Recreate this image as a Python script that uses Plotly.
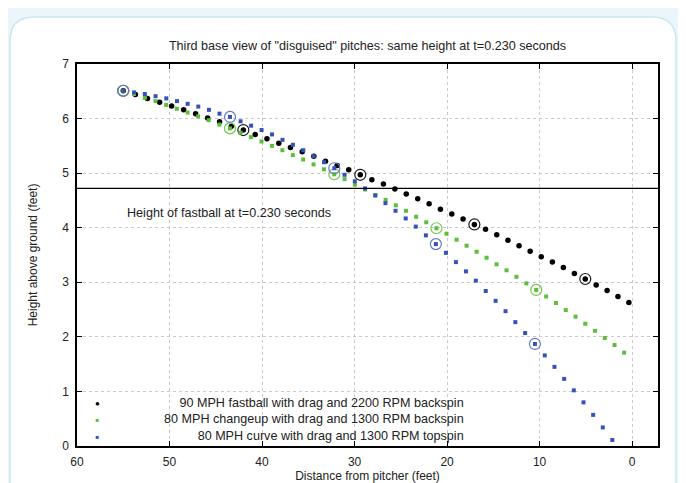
import plotly.graph_objects as go

# ---------------- data ----------------
fastball_x = [55.00, 53.69, 52.38, 51.07, 49.77, 48.47, 47.18, 45.88, 44.59, 43.31,
              42.02, 40.74, 39.47, 38.19, 36.93, 35.66, 34.40, 33.14, 31.88, 30.63,
              29.38, 28.13, 26.88, 25.64, 24.41, 23.17, 21.94, 20.72, 19.49, 18.27,
              17.05, 15.84, 14.63, 13.42, 12.22, 11.02, 9.82, 8.62, 7.43, 6.24,
              5.06, 3.88, 2.70, 1.53, 0.35]
fastball_y = [6.51, 6.44, 6.37, 6.30, 6.23, 6.16, 6.09, 6.01, 5.94, 5.86,
              5.79, 5.71, 5.63, 5.55, 5.47, 5.39, 5.31, 5.22, 5.14, 5.06,
              4.97, 4.88, 4.80, 4.71, 4.62, 4.53, 4.44, 4.34, 4.25, 4.16,
              4.06, 3.97, 3.87, 3.77, 3.67, 3.57, 3.47, 3.37, 3.27, 3.16,
              3.06, 2.95, 2.85, 2.74, 2.63]

changeup_x = [55.00, 53.84, 52.67, 51.52, 50.36, 49.21, 48.05, 46.91, 45.76, 44.61,
              43.47, 42.33, 41.20, 40.06, 38.93, 37.80, 36.67, 35.55, 34.43, 33.31,
              32.19, 31.08, 29.96, 28.85, 27.75, 26.64, 25.54, 24.44, 23.34, 22.25,
              21.15, 20.06, 18.97, 17.89, 16.81, 15.73, 14.65, 13.57, 12.50, 11.43,
              10.36, 9.29, 8.23, 7.17, 6.11, 5.06, 4.00, 2.95, 1.90, 0.86]
changeup_y = [6.51, 6.45, 6.38, 6.32, 6.25, 6.18, 6.11, 6.04, 5.97, 5.89,
              5.82, 5.74, 5.66, 5.58, 5.50, 5.42, 5.33, 5.25, 5.16, 5.07,
              4.98, 4.89, 4.79, 4.70, 4.60, 4.51, 4.41, 4.31, 4.20, 4.10,
              3.99, 3.89, 3.78, 3.67, 3.56, 3.45, 3.33, 3.22, 3.10, 2.98,
              2.86, 2.74, 2.62, 2.49, 2.37, 2.24, 2.11, 1.98, 1.85, 1.71]

curve_x = [55.00, 53.83, 52.67, 51.51, 50.35, 49.19, 48.04, 46.89, 45.74, 44.60,
           43.46, 42.32, 41.18, 40.05, 38.92, 37.79, 36.66, 35.54, 34.42, 33.30,
           32.19, 31.08, 29.97, 28.87, 27.76, 26.66, 25.57, 24.47, 23.38, 22.29,
           21.21, 20.12, 19.04, 17.96, 16.89, 15.82, 14.75, 13.68, 12.62, 11.56,
           10.50, 9.44, 8.39, 7.34, 6.30, 5.25, 4.21, 3.17, 2.14]
curve_y = [6.51, 6.48, 6.45, 6.41, 6.37, 6.32, 6.27, 6.22, 6.16, 6.09,
           6.03, 5.95, 5.87, 5.79, 5.71, 5.61, 5.52, 5.42, 5.31, 5.20,
           5.09, 4.97, 4.85, 4.72, 4.59, 4.45, 4.31, 4.17, 4.02, 3.86,
           3.70, 3.54, 3.37, 3.20, 3.03, 2.84, 2.66, 2.47, 2.27, 2.07,
           1.87, 1.66, 1.45, 1.23, 1.02, 0.80, 0.57, 0.34, 0.11]

fastball_height_at_t = 4.72

series_names = ["90 MPH fastball with drag and 2200 RPM backspin",
                "80 MPH changeup with drag and 1300 RPM backspin",
                "80 MPH curve with drag and 1300 RPM topspin"]

x_ticks = [60, 50, 40, 30, 20, 10, 0]
y_ticks = [0, 1, 2, 3, 4, 5, 6, 7]

title_text = 'Third base view of "disguised" pitches: same height at t=0.230 seconds'
line_label = "Height of fastball at t=0.230 seconds"
x_title = "Distance from pitcher (feet)"
y_title = "Height above ground (feet)"

# ---------------- styling ----------------
BLACK = "#000000"
GREEN = "#5cbf3a"
BLUE = "#3652b8"
FONT = "Liberation Sans, Arial, sans-serif"
TXT = "#222222"
FS = 12.6
AFS = 12

OFF = 8                      # page offset of the figure (body margin)
W, H = 686 - OFF, 483 - OFF
PLOT_L, PLOT_R, PLOT_T, PLOT_B = 77, 658, 64, 446   # page pixels
L, T = PLOT_L - OFF, PLOT_T - OFF
R, B = W - (PLOT_R - OFF), H - (PLOT_B - OFF)
PW, PH = PLOT_R - PLOT_L, PLOT_B - PLOT_T


def px2x(px):
    return (px - PLOT_L) / PW


def px2y(py):
    return (PLOT_B - py) / PH


fig = go.Figure()

series = [
    (fastball_x, fastball_y, BLACK, "circle", 5.5, "#1a1a1a"),
    (changeup_x, changeup_y, GREEN, "square", 4, "#72c94f"),
    (curve_x, curve_y, BLUE, "square", 4, "#6478c8"),
]
for (xs, ys, col, sym, size, ring), name in zip(series, series_names):
    fig.add_trace(go.Scatter(x=xs, y=ys, mode="markers", name=name,
                             marker=dict(color=col, symbol=sym, size=size, line=dict(width=0)),
                             showlegend=False))
    fig.add_trace(go.Scatter(x=xs[::10], y=ys[::10], mode="markers", name=name + " (every 0.1 s)",
                             marker=dict(color=ring, symbol="circle-open", size=11,
                                         line=dict(color=ring, width=1.2)),
                             showlegend=False))

# horizontal reference line
fig.add_shape(type="line", xref="paper", x0=0, x1=1, yref="y",
              y0=fastball_height_at_t, y1=fastball_height_at_t,
              line=dict(color="black", width=1.2))

# card background with rounded top corners
cx0, cx1, cyt, cyb = px2x(10), px2x(676), px2y(17), px2y(530)
rx, ry = 24 / PW, 24 / PH
card_path = (f"M {cx0},{cyb} L {cx0},{cyt - ry} Q {cx0},{cyt} {cx0 + rx},{cyt} "
             f"L {cx1 - rx},{cyt} Q {cx1},{cyt} {cx1},{cyt - ry} L {cx1},{cyb} Z")
fig.add_shape(type="path", xref="paper", yref="paper", path=card_path,
              fillcolor="white", line=dict(color="#c9e6f1", width=1.5), layer="below")

# label for the line
fig.add_annotation(x=54.8, y=4.27, xref="x", yref="y", text=line_label, showarrow=False,
                   xanchor="left", yanchor="middle", font=dict(size=FS, color=TXT))

# legend: right-aligned text block plus key symbols on the left
key_syms = ["●", "■", "■"]
key_sizes = [8, 6, 6]
key_cols = [BLACK, GREEN, BLUE]
fig.add_annotation(x=px2x(466), y=px2y(419), xref="paper", yref="paper",
                   text="<br>".join(series_names), align="right",
                   showarrow=False, xanchor="right", yanchor="middle",
                   font=dict(size=FS, color=TXT))
fig.add_annotation(x=px2x(97), y=px2y(419), xref="paper", yref="paper",
                   text="<br>".join(f"<span style='color:{c};font-size:{s}px'>{m}</span>"
                                    for m, s, c in zip(key_syms, key_sizes, key_cols)),
                   align="center", showarrow=False, xanchor="center", yanchor="middle",
                   font=dict(size=FS, color=TXT))

axis_common = dict(showline=True, mirror="ticks", linecolor="black", linewidth=1.5,
                   ticks="inside", ticklen=5, tickcolor="black", tickwidth=1,
                   showgrid=True, gridcolor="#c9c9c9", griddash="dot", gridwidth=1,
                   zeroline=False, tickfont=dict(size=AFS, color=TXT, family=FONT))

fig.update_xaxes(range=[60, -2.8], tickvals=x_ticks, ticktext=[str(v) for v in x_ticks],
                 title=dict(text=x_title, font=dict(size=AFS, color=TXT), standoff=3),
                 automargin=False, ticklabelstandoff=4, **axis_common)
fig.update_yaxes(range=[0, 7], tickvals=y_ticks, ticktext=[str(v) for v in y_ticks],
                 title=dict(text=y_title, font=dict(size=AFS, color=TXT), standoff=22),
                 automargin=False, ticklabelstandoff=4, **axis_common)

fig.update_layout(
    width=W, height=H,
    margin=dict(l=L, r=R, t=T, b=B),
    paper_bgcolor="#eaf6fb",
    plot_bgcolor="white",
    font=dict(family=FONT, size=FS, color=TXT),
    title=dict(text=title_text, x=(L + PW / 2) / W, xanchor="center",
               y=1 - (46 - OFF) / H, yanchor="middle", yref="container",
               font=dict(size=FS, color=TXT)),
    showlegend=False,
)

fig.write_html("out.html")
